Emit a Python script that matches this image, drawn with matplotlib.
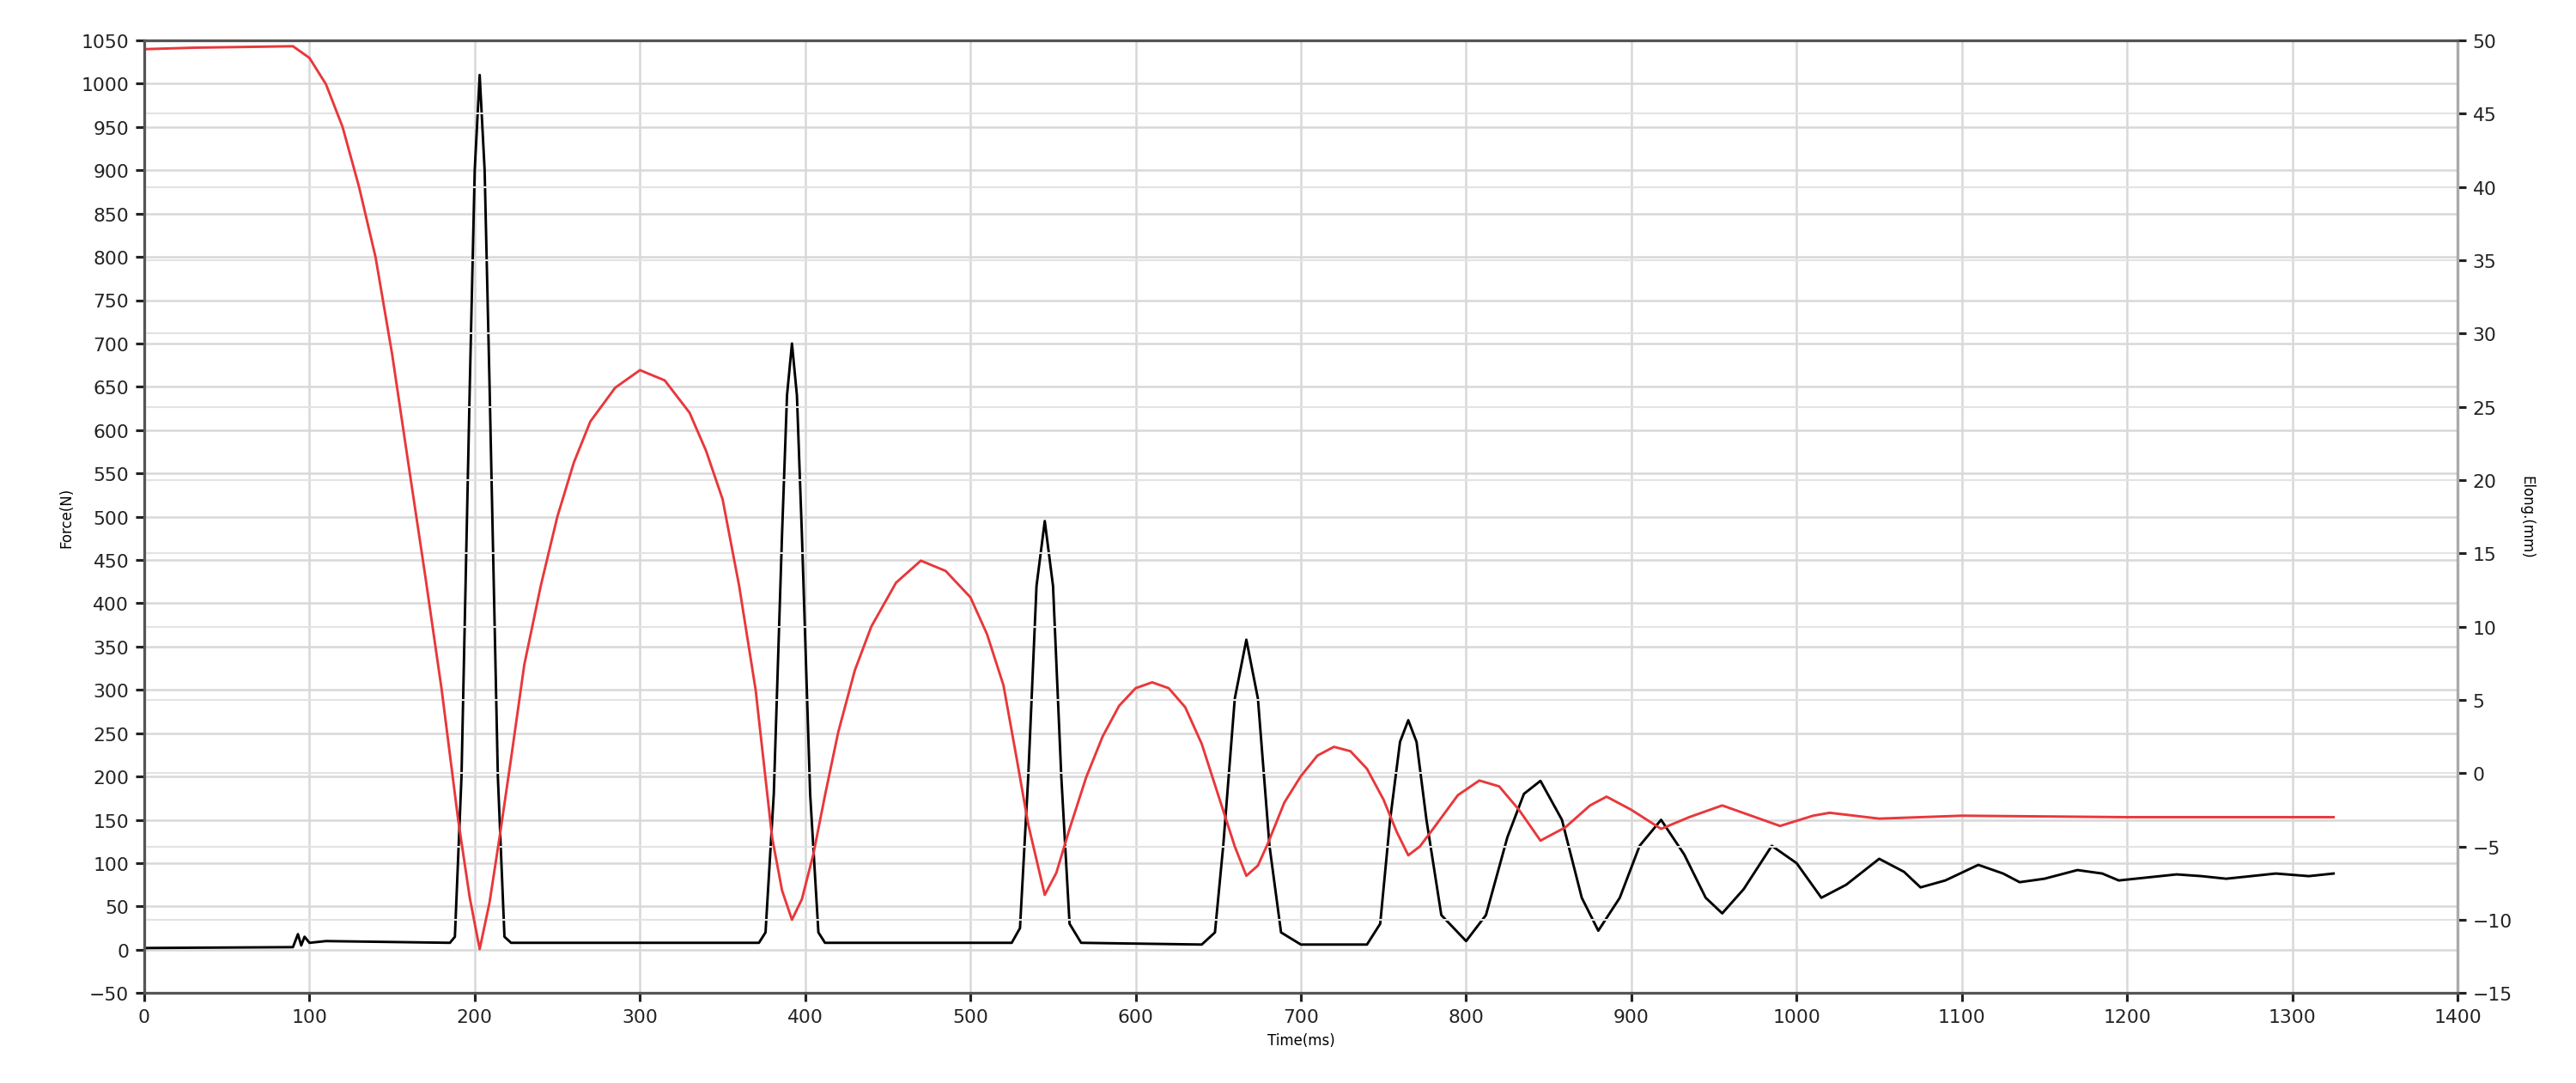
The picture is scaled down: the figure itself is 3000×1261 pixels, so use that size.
import matplotlib
matplotlib.use("Agg")
import matplotlib.pyplot as plt
import numpy as np

# Force (black, left axis, N)
force_t = [0, 90, 93, 95, 97, 100, 110, 185, 188, 192, 197, 200, 203, 206, 209, 214, 218, 222, 300, 372, 376, 381, 386, 389, 392, 395, 398, 403, 408, 412, 500, 525, 530, 535, 540, 545, 550, 555, 560, 567, 640, 648, 653, 660, 667, 674, 681, 688, 700, 740, 748, 754, 760, 765, 770, 776, 785, 800, 812, 825, 835, 845, 858, 870, 880, 893, 905, 918, 932, 945, 955, 968, 985, 1000, 1015, 1030, 1050, 1065, 1075, 1090, 1110, 1125, 1135, 1150, 1170, 1185, 1195, 1210, 1230, 1245, 1260, 1275, 1290, 1310, 1325]
force_v = [2, 3, 18, 5, 15, 8, 10, 8, 15, 200, 650, 900, 1010, 900, 650, 200, 15, 8, 8, 8, 20, 180, 480, 640, 700, 640, 480, 180, 20, 8, 8, 8, 25, 200, 420, 495, 420, 200, 30, 8, 6, 20, 120, 290, 358, 290, 120, 20, 6, 6, 30, 150, 240, 265, 240, 150, 40, 10, 40, 130, 180, 195, 150, 60, 22, 60, 120, 150, 110, 60, 42, 70, 120, 100, 60, 75, 105, 90, 72, 80, 98, 88, 78, 82, 92, 88, 80, 83, 87, 85, 82, 85, 88, 85, 88]

# Elongation (red, right axis, mm)
elong_t = [0, 30, 90, 100, 110, 120, 130, 140, 150, 160, 170, 180, 190, 197, 203, 209, 215, 222, 230, 240, 250, 260, 270, 285, 300, 315, 330, 340, 350, 360, 370, 380, 386, 392, 398, 405, 412, 420, 430, 440, 455, 470, 485, 500, 510, 520, 528, 535, 545, 552, 560, 570, 580, 590, 600, 610, 620, 630, 640, 650, 660, 667, 674, 680, 690, 700, 710, 720, 730, 740, 750, 758, 765, 772, 780, 795, 808, 820, 832, 845, 860, 875, 885, 900, 918, 935, 955, 975, 990, 1010, 1020, 1050, 1100, 1200, 1325]
elong_v = [49.4, 49.5, 49.6, 48.8, 47.0, 44.1, 40.0, 35.2, 28.6, 21.0, 13.5, 5.7, -3.2, -8.5, -12.0, -8.8, -4.4, 1.0, 7.4, 12.8, 17.5, 21.2, 24.0, 26.3, 27.5, 26.8, 24.6, 22.0, 18.7, 12.8, 5.7, -4.4, -8.0, -10.0, -8.6, -5.5, -1.5, 2.8, 7.0, 10.0, 13.0, 14.5, 13.8, 12.0, 9.5, 6.0, 1.0, -3.5, -8.3, -6.8, -3.8, -0.3, 2.5, 4.6, 5.8, 6.2, 5.8, 4.5, 2.0, -1.5, -5.0, -7.0, -6.3, -4.8, -2.0, -0.2, 1.2, 1.8, 1.5, 0.3, -1.8, -4.0, -5.6, -5.0, -3.8, -1.5, -0.5, -0.9, -2.5, -4.6, -3.7, -2.2, -1.6, -2.5, -3.8, -3.0, -2.2, -3.0, -3.6, -2.9, -2.7, -3.1, -2.9, -3.0, -3.0]

fig = plt.figure(figsize=(20, 8.413), dpi=150)
ax = fig.add_axes([0.056, 0.083, 0.898, 0.879])
ax2 = ax.twinx()

ax.plot(force_t, force_v, color="black", lw=1.4)
ax2.plot(elong_t, elong_v, color="#e8383b", lw=1.4)

ax.set_xlim(0, 1400)
ax.set_ylim(-50, 1050)
ax2.set_ylim(-15, 50)
ax.set_xticks(np.arange(0, 1401, 100))
ax.set_yticks(np.arange(-50, 1051, 50))
ax2.set_yticks(np.arange(-15, 51, 5))
ax.grid(True, color="#d8d8d8", lw=1.2)
ax2.grid(True, axis="y", color="#e3e3e3", lw=1.0)
ax.set_axisbelow(True)

for a in (ax, ax2):
    a.tick_params(labelsize=10.5, width=1.5, length=5, colors="#222222")
    for s in a.spines.values():
        s.set_color("#555555")
        s.set_linewidth(1.5)
ax2.spines["right"].set_color("#aaaaaa")

ax.set_xlabel("Time(ms)", fontsize=8)
ax.set_ylabel("Force(N)", fontsize=8)
ax2.set_ylabel("Elong.(mm)", fontsize=8, rotation=270, labelpad=12)

fig.savefig("out.png", dpi=150)
